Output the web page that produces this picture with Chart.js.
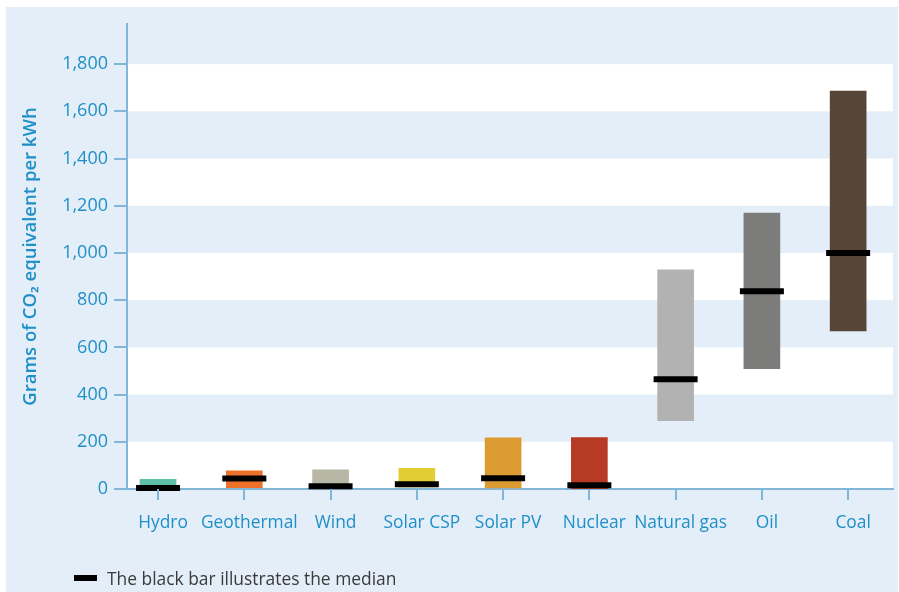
<!DOCTYPE html>
<html>
<head>
<meta charset="utf-8">
<script src="https://cdn.jsdelivr.net/npm/chart.js@4/dist/chart.umd.min.js"></script>
<style>
  html, body { margin: 0; padding: 0; background: #fff; }
  #wrap { position: relative; width: 899px; height: 592px; }
  #note {
    position: absolute; left: 74px; top: 566px;
    font: 17.4px "Open Sans", sans-serif; color: #3a3a3a;
    display: flex; align-items: center;
  }
  #note .key { width: 23px; height: 6px; background: #000; margin-right: 10px; }
</style>
</head>
<body>
<div id="wrap">
  <canvas id="chart" width="899" height="592"></canvas>
  <div id="note"><span class="key"></span>The black bar illustrates the median</div>
</div>
<script>
// grams CO2-eq per kWh, life-cycle ranges
const sources = ['Hydro', 'Geothermal', 'Wind', 'Solar CSP', 'Solar PV', 'Nuclear', 'Natural gas', 'Oil', 'Coal'];
const lows    = [0, 6, 2, 9, 5, 1, 290, 510, 670];
const highs   = [41, 77, 81, 88, 217, 218, 928, 1169, 1686];
const medians = [4, 45, 12, 20, 46, 16, 465, 838, 1000];
const barColors = ['#5fbfa9', '#ee712a', '#b8b6a5', '#e2cd35', '#db9b30', '#b73a25', '#b2b2b2', '#7c7c7b', '#574538'];
const yTicks = [0, 200, 400, 600, 800, 1000, 1200, 1400, 1600, 1800];

const BLUE_BG = '#e3eef8';
const AXIS = '#82b6d9';
const LABEL = '#1f8fc8';

// panel background + alternating white bands
const bandsPlugin = {
  id: 'bands',
  beforeDraw(chart) {
    const { ctx, chartArea: a, scales: { y } } = chart;
    ctx.save();
    ctx.fillStyle = BLUE_BG;
    ctx.fillRect(6, 7, 892, 585);
    ctx.fillStyle = '#ffffff';
    for (let i = 0; i < yTicks.length - 1; i += 2) {
      const top = y.getPixelForValue(yTicks[i + 1]);
      const bot = y.getPixelForValue(yTicks[i]);
      ctx.fillRect(a.left, top, a.right - a.left, bot - top);
    }
    ctx.restore();
  },
  // small tick marks under each category
  afterDraw(chart) {
    const { ctx, chartArea: a, scales: { x } } = chart;
    ctx.save();
    ctx.strokeStyle = AXIS;
    ctx.lineWidth = 2;
    sources.forEach((_, i) => {
      const px = Math.round(x.getPixelForValue(i));
      ctx.beginPath();
      ctx.moveTo(px, a.bottom);
      ctx.lineTo(px, a.bottom + 11);
      ctx.stroke();
    });
    ctx.restore();
  }
};

new Chart(document.getElementById('chart'), {
  type: 'bar',
  data: {
    datasets: [
      {
        type: 'line',
        data: sources.map((s, i) => ({ x: i, y: medians[i] })),
        showLine: false,
        pointStyle: 'line',
        pointRadius: 22,
        pointHoverRadius: 22,
        borderColor: '#000',
        borderWidth: 6,
        pointBorderWidth: 6,
        clip: false,
        order: 0
      },
      {
        data: sources.map((s, i) => ({ x: i, y: [lows[i], highs[i]] })),
        backgroundColor: barColors,
        barThickness: 36,
        borderWidth: 0,
        borderSkipped: false,
        order: 1
      }
    ]
  },
  plugins: [bandsPlugin],
  options: {
    responsive: false,
    animation: false,
    events: [],
    layout: { autoPadding: false, padding: { left: 0, right: 6, top: 24, bottom: 0 } },
    plugins: { legend: { display: false }, tooltip: { enabled: false } },
    scales: {
      x: {
        type: 'linear',
        offset: false,
        min: -0.36,
        max: 8.52,
        afterFit: s => { s.height = 103; s.paddingRight = 0; s.paddingLeft = 0; },
        afterBuildTicks: s => {
          s.ticks = sources.map((_, i) => ({ value: i }));
        },
        grid: { offset: false, drawOnChartArea: false, drawTicks: false, color: AXIS, lineWidth: 2 },
        border: { color: AXIS, width: 2 },
        ticks: {
          autoSkip: false,
          maxRotation: 0,
          padding: 24,
          labelOffset: 5,
          color: LABEL,
          font: { family: 'Open Sans', size: 17.4 },
          callback: v => sources[v]
        }
      },
      y: {
        min: 0,
        max: 1970,
        afterFit: s => { s.width = 127; },
        afterBuildTicks: s => {
          s.ticks = yTicks.map(v => ({ value: v }));
        },
        grid: { drawOnChartArea: false, color: AXIS, lineWidth: 2, tickLength: 13 },
        border: { color: AXIS, width: 2 },
        ticks: {
          padding: 6,
          color: LABEL,
          font: { family: 'Open Sans', size: 18 },
          callback: v => v.toLocaleString('en-US')
        },
        title: {
          display: true,
          text: 'Grams of CO₂ equivalent per kWh',
          color: LABEL,
          font: { family: 'Open Sans', size: 18.5, weight: '600' },
          padding: { top: 20, bottom: 0 }
        }
      }
    }
  }
});
</script>
</body>
</html>
